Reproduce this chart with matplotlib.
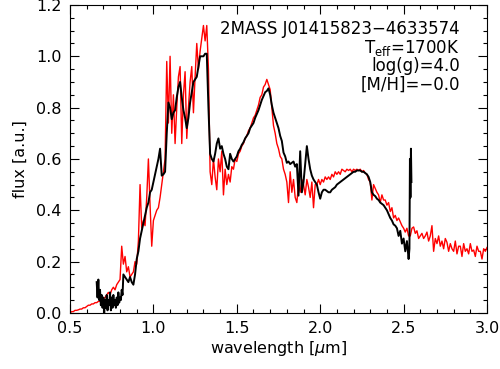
import numpy as np
import matplotlib
matplotlib.use("Agg")
import matplotlib.pyplot as plt
from matplotlib.ticker import MultipleLocator

# model spectrum (red), sampled every 0.01 um starting at 0.50 um, one row per 0.1 um
model_start = 0.50
model_flux = [
    0.000, 0.005, 0.005, 0.010, 0.010, 0.012, 0.015, 0.015, 0.020, 0.020,
    0.025, 0.030, 0.030, 0.035, 0.035, 0.040, 0.040, 0.045, 0.045, 0.050,
    0.055, 0.060, 0.070, 0.080, 0.070, 0.090, 0.100, 0.090, 0.110, 0.120,
    0.130, 0.260, 0.190, 0.220, 0.160, 0.180, 0.140, 0.150, 0.160, 0.200,
    0.190, 0.280, 0.500, 0.330, 0.360, 0.340, 0.450, 0.600, 0.420, 0.260,
    0.360, 0.380, 0.400, 0.410, 0.450, 0.500, 0.550, 0.600, 0.980, 0.740,
    1.000, 0.700, 0.850, 0.660, 0.800, 0.920, 0.960, 0.660, 0.850, 0.940,
    0.680, 0.800, 0.900, 0.960, 0.780, 0.920, 1.050, 0.950, 1.020, 1.070,
    1.120, 1.060, 1.120, 0.950, 0.550, 0.500, 0.600, 0.530, 0.480, 0.600,
    0.550, 0.630, 0.460, 0.560, 0.500, 0.540, 0.510, 0.570, 0.560, 0.600,
    0.590, 0.620, 0.630, 0.650, 0.660, 0.680, 0.690, 0.710, 0.720, 0.740,
    0.760, 0.770, 0.790, 0.810, 0.840, 0.850, 0.880, 0.890, 0.910, 0.890,
    0.870, 0.800, 0.730, 0.700, 0.660, 0.640, 0.610, 0.600, 0.560, 0.540,
    0.510, 0.430, 0.550, 0.470, 0.520, 0.450, 0.430, 0.500, 0.470, 0.520,
    0.500, 0.460, 0.520, 0.490, 0.450, 0.510, 0.410, 0.500, 0.500, 0.520,
    0.500, 0.520, 0.510, 0.530, 0.520, 0.530, 0.520, 0.540, 0.530, 0.550,
    0.540, 0.550, 0.540, 0.560, 0.555, 0.550, 0.560, 0.555, 0.560, 0.550,
    0.560, 0.555, 0.560, 0.555, 0.560, 0.550, 0.555, 0.545, 0.540, 0.520,
    0.510, 0.440, 0.500, 0.485, 0.470, 0.460, 0.430, 0.460, 0.440, 0.440,
    0.420, 0.430, 0.395, 0.410, 0.370, 0.380, 0.360, 0.370, 0.355, 0.340,
    0.330, 0.315, 0.330, 0.300, 0.300, 0.330, 0.335, 0.310, 0.320, 0.290,
    0.300, 0.310, 0.290, 0.300, 0.315, 0.280, 0.300, 0.340, 0.240, 0.290,
    0.270, 0.300, 0.260, 0.280, 0.250, 0.290, 0.275, 0.240, 0.270, 0.250,
    0.240, 0.280, 0.230, 0.260, 0.260, 0.220, 0.270, 0.240, 0.250, 0.230,
    0.270, 0.240, 0.245, 0.220, 0.260, 0.240, 0.240, 0.210, 0.250, 0.240,
    0.255,
]

# observed spectrum (black): noisy blue end every 0.005 um from 0.66 um
obs_blue_start = 0.66
obs_blue_flux = [
    0.12, 0.06, 0.13, 0.05, 0.09, 0.03, 0.07, 0.02,
    0.06, 0.00, 0.05, 0.02, 0.07, 0.01, 0.05, 0.03,
    0.08, 0.01, 0.06, 0.02, 0.07, 0.03, 0.05, 0.02,
    0.06, 0.03, 0.08, 0.04, 0.06, 0.05, 0.09, 0.07,
]
# rest of the observed spectrum, every 0.01 um from 0.82 um
obs_start = 0.82
obs_flux = [
    0.15, 0.14, 0.13, 0.12, 0.14, 0.12, 0.11, 0.15,
    0.21, 0.24, 0.29, 0.32, 0.35, 0.38, 0.41, 0.43, 0.47, 0.48,
    0.51, 0.54, 0.57, 0.60, 0.64, 0.535, 0.54, 0.55, 0.70, 0.82,
    0.80, 0.755, 0.78, 0.79, 0.84, 0.88, 0.90, 0.84, 0.79, 0.76,
    0.72, 0.76, 0.82, 0.86, 0.90, 0.91, 0.92, 0.96, 1.00, 1.00,
    1.00, 1.01, 1.01, 0.80, 0.62, 0.60, 0.59, 0.62, 0.66, 0.68,
    0.64, 0.65, 0.62, 0.60, 0.57, 0.56, 0.62, 0.60, 0.59, 0.60,
    0.61, 0.63, 0.64, 0.655, 0.665, 0.68, 0.69, 0.70, 0.72, 0.73,
    0.74, 0.76, 0.775, 0.79, 0.81, 0.83, 0.845, 0.86, 0.865, 0.875,
    0.85, 0.81, 0.78, 0.76, 0.74, 0.72, 0.69, 0.67, 0.625, 0.61,
    0.585, 0.59, 0.58, 0.585, 0.59, 0.57, 0.58, 0.457, 0.63, 0.47,
    0.51, 0.58, 0.65, 0.60, 0.56, 0.535, 0.52, 0.51, 0.50, 0.47,
    0.445, 0.47, 0.48, 0.48, 0.475, 0.47, 0.47, 0.48, 0.485, 0.49,
    0.50, 0.505, 0.51, 0.515, 0.52, 0.525, 0.53, 0.535, 0.54, 0.545,
    0.55, 0.55, 0.555, 0.555, 0.555, 0.55, 0.55, 0.545, 0.54, 0.53,
    0.51, 0.47, 0.46, 0.455, 0.445, 0.44, 0.43, 0.425, 0.42, 0.41,
    0.40, 0.385, 0.37, 0.36, 0.345, 0.34, 0.33, 0.30, 0.32, 0.27,
    0.29, 0.24, 0.28, 0.21,
]
# spike at the red end of the observed spectrum
obs_tail_wl = [2.535, 2.538, 2.541, 2.544, 2.547]
obs_tail_flux = [0.25, 0.60, 0.45, 0.64, 0.51]

model_wl = np.round(model_start + 0.01 * np.arange(len(model_flux)), 3)
obs_wl = np.concatenate([
    np.round(obs_blue_start + 0.005 * np.arange(len(obs_blue_flux)), 3),
    np.round(obs_start + 0.01 * np.arange(len(obs_flux)), 3),
    obs_tail_wl])
obs_all = np.concatenate([obs_blue_flux, obs_flux, obs_tail_flux])

plt.rcParams['font.family'] = ['DejaVu Sans']
plt.rcParams['mathtext.fontset'] = 'dejavusans'

fig = plt.figure(figsize=(5.0, 3.69), dpi=100)
ax = fig.add_axes([0.14, 0.152, 0.834, 0.8345])

ax.plot(model_wl, model_flux, color='red', lw=1.0)
ax.plot(obs_wl, obs_all, color='black', lw=1.4)

ax.set_xlim(0.5, 3.0)
ax.set_ylim(0.0, 1.2)
ax.xaxis.set_major_locator(MultipleLocator(0.5))
ax.xaxis.set_minor_locator(MultipleLocator(0.1))
ax.yaxis.set_major_locator(MultipleLocator(0.2))
ax.yaxis.set_minor_locator(MultipleLocator(0.05))
ax.xaxis.set_major_formatter(plt.FormatStrFormatter('%.1f'))
ax.yaxis.set_major_formatter(plt.FormatStrFormatter('%.1f'))
ax.tick_params(which='both', direction='in', top=True, right=True,
               labelsize=11.5, width=0.8)
ax.tick_params(which='major', length=6.5, pad=6)
ax.tick_params(which='minor', length=3.2)
for s in ax.spines.values():
    s.set_linewidth(0.8)

ax.set_xlabel(r'wavelength [$\mu$m]', fontsize=11.5, labelpad=2)
ax.set_ylabel('flux [a.u.]', fontsize=11.5, labelpad=6)

lines = ['2MASS J01415823\u22124633574',
         r'T$_{\rm eff}$=1700K',
         'log(g)=4.0',
         '[M/H]=\u22120.0']
for i, t in enumerate(lines):
    ax.text(0.935, 0.905 - i * 0.06, t, transform=ax.transAxes,
            ha='right', va='baseline', fontsize=12)

fig.savefig('out.png', dpi=100)
